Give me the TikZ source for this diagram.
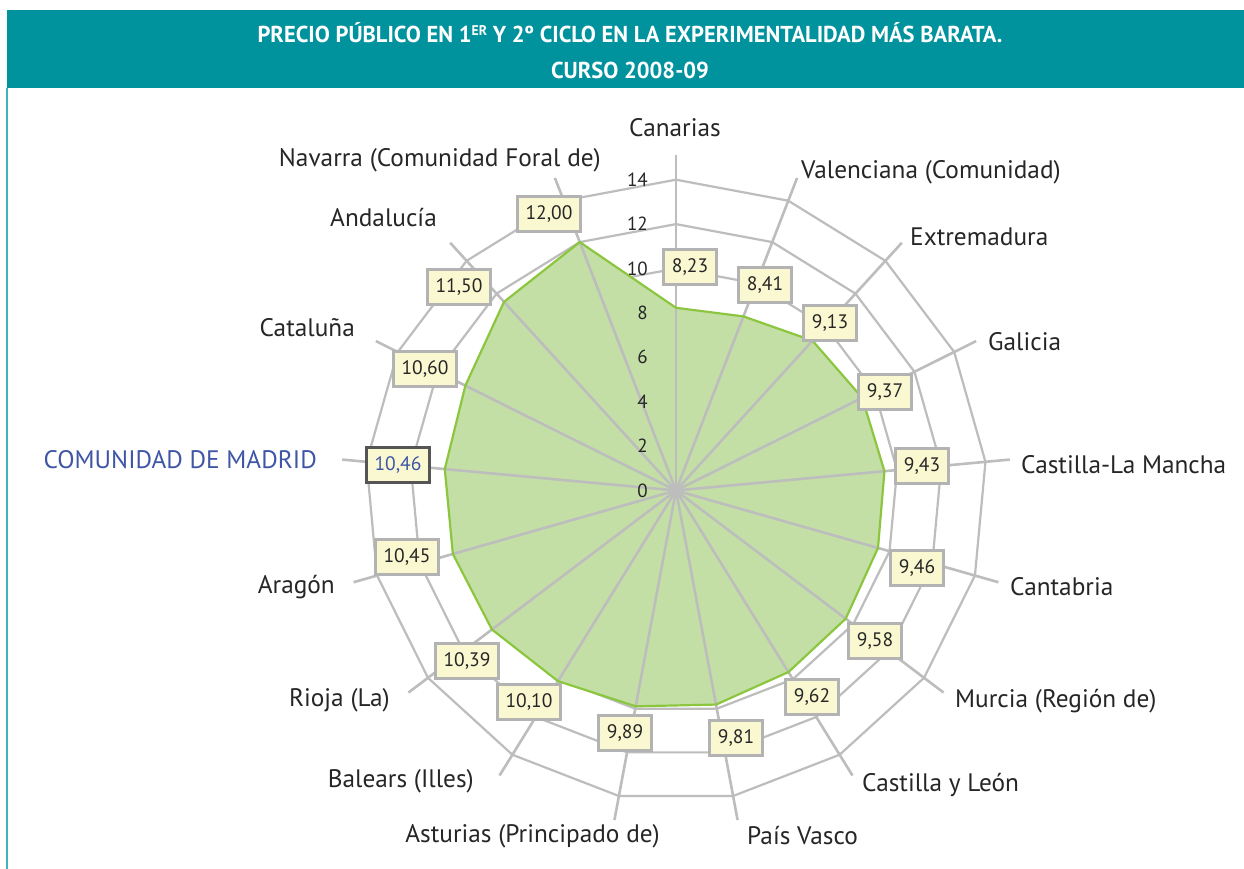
\documentclass[tikz,border=0pt]{standalone}
\usepackage{fontspec}
\setmainfont{PT Sans}
\newfontfamily\titlefont[FakeStretch=0.98]{PT Sans}
\definecolor{teal}{HTML}{00939E}
\definecolor{tealline}{HTML}{3FB3BB}
\definecolor{gridgray}{HTML}{BDBDBD}
\definecolor{boxgray}{HTML}{B3B3B3}
\definecolor{boxfill}{HTML}{FAF8D0}
\definecolor{greenfill}{HTML}{C3DFA6}
\definecolor{greenline}{HTML}{8CC63F}
\definecolor{madridblue}{HTML}{3F56A6}
\definecolor{darkbox}{HTML}{555555}
\tikzset{
  gridline/.style={draw=gridgray, line width=2.2pt},
  spokeline/.style={draw=gridgray, line width=2.6pt},
  datalbl/.style={draw=boxgray, fill=boxfill, line width=3pt, inner xsep=8pt, minimum height=35pt, font=\fontsize{19.5}{19.5}\selectfont, text=black!85},
  cat/.style={font=\fontsize{25.3}{25.3}\selectfont, text=black!85, inner sep=0pt},
  axisnum/.style={font=\fontsize{19}{19}\selectfont, text=black!85, anchor=east, inner sep=0pt},
}
\begin{document}
\begin{tikzpicture}[x=1pt,y=-1pt]
\useasboundingbox (0,0) rectangle (1244,869);
\fill[white] (0,0) rectangle (1244,869);
% title bar
\fill[teal] (7,10) rectangle (1244,88);
\draw[tealline, line width=2pt] (7,88) -- (7,869);
\node[text=white, font=\titlefont\bfseries\fontsize{23}{23}\selectfont] (t1) at (630,33)
  {PRECIO PÚBLICO EN 1\raisebox{0.3em}{\fontsize{14}{14}\selectfont ER} Y 2º CICLO EN LA EXPERIMENTALIDAD MÁS BARATA.};
\node[text=white, font=\titlefont\bfseries\fontsize{23}{23}\selectfont] (t2) at (630,70) {CURSO 2008-09};
% radar geometry
\def\cx{676}\def\cy{490.5}\def\u{22.2}
\foreach \i in {0,...,16}{
  \pgfmathsetmacro{\ang}{90-\i*360/17}
  \foreach \lv in {10,12,14}{
    \coordinate (r\lv-\i) at ({\cx+\lv*\u*cos(\ang)},{\cy-\lv*\u*sin(\ang)});
  }
  \coordinate (s\i) at ({\cx+15.1*\u*cos(\ang)},{\cy-15.1*\u*sin(\ang)});
}
\coordinate (c) at (\cx,\cy);
\foreach \i/\v in {0/8.23,1/8.41,2/9.13,3/9.37,4/9.43,5/9.46,6/9.58,7/9.62,8/9.81,9/9.89,10/10.10,11/10.39,12/10.45,13/10.46,14/10.60,15/11.50,16/12.00}{
  \pgfmathsetmacro{\ang}{90-\i*360/17}
  \coordinate (d\i) at ({\cx+\v*\u*cos(\ang)},{\cy-\v*\u*sin(\ang)});
}
% rings
\foreach \lv in {10,12,14}{
  \draw[gridline, line join=miter] (r\lv-0) \foreach \i in {1,...,16}{ -- (r\lv-\i)} -- cycle;
}
% data area
\fill[greenfill] (d0) \foreach \i in {1,...,16}{ -- (d\i)} -- cycle;
% spokes
\foreach \i in {0,...,16}{ \draw[spokeline] (c) -- (s\i); }
\draw[greenline, line width=2.2pt, line join=round] (d0) \foreach \i in {1,...,16}{ -- (d\i)} -- cycle;
% axis numbers
\foreach \v in {0,2,...,14}{
  \node[axisnum] (ax\v) at (648,{\cy-\v*\u}) {\v};
}
% data labels
\node[datalbl] (l0) at (690,267) {8,23};
\node[datalbl] (l1) at (765,285) {8,41};
\node[datalbl] (l2) at (830,323) {9,13};
\node[datalbl] (l3) at (885,392) {9,37};
\node[datalbl] (l4) at (922,466) {9,43};
\node[datalbl] (l5) at (917,568) {9,46};
\node[datalbl] (l6) at (875,641) {9,58};
\node[datalbl] (l7) at (812,697) {9,62};
\node[datalbl] (l8) at (736,738) {9,81};
\node[datalbl] (l9) at (625,733) {9,89};
\node[datalbl] (l10) at (529,702) {10,10};
\node[datalbl] (l11) at (467,661) {10,39};
\node[datalbl] (l12) at (407,557) {10,45};
\node[datalbl, draw=darkbox, text=madridblue] (l13) at (398,465) {10,46};
\node[datalbl] (l14) at (425,369) {10,60};
\node[datalbl] (l15) at (459,287) {11,50};
\node[datalbl] (l16) at (549,214) {12,00};
% category labels
\node[cat] (n0) at (675,128) {Canarias};
\node[cat, anchor=west] (n1) at (801,172) {Valenciana (Comunidad)};
\node[cat, anchor=west] (n2) at (910,237) {Extremadura};
\node[cat, anchor=west] (n3) at (988,342) {Galicia};
\node[cat, anchor=west] (n4) at (1021,465) {Castilla-La Mancha};
\node[cat, anchor=west] (n5) at (1010,587) {Cantabria};
\node[cat, anchor=west] (n6) at (955,701) {Murcia (Región de)};
\node[cat, anchor=west] (n7) at (862,785) {Castilla y León};
\node[cat, anchor=west] (n8) at (747,836) {País Vasco};
\node[cat, anchor=east] (n9) at (660,836) {Asturias (Principado de)};
\node[cat, anchor=east] (n10) at (474,781) {Balears (Illes)};
\node[cat, anchor=east] (n11) at (390,700) {Rioja (La)};
\node[cat, anchor=east] (n12) at (335,587) {Aragón};
\node[cat, anchor=east, text=madridblue] (n13) at (317,460) {COMUNIDAD DE MADRID};
\node[cat, anchor=east] (n14) at (355,328) {Cataluña};
\node[cat, anchor=east] (n15) at (437,218) {Andalucía};
\node[cat, anchor=east] (n16) at (601,160) {Navarra (Comunidad Foral de)};
\end{tikzpicture}
\end{document}
